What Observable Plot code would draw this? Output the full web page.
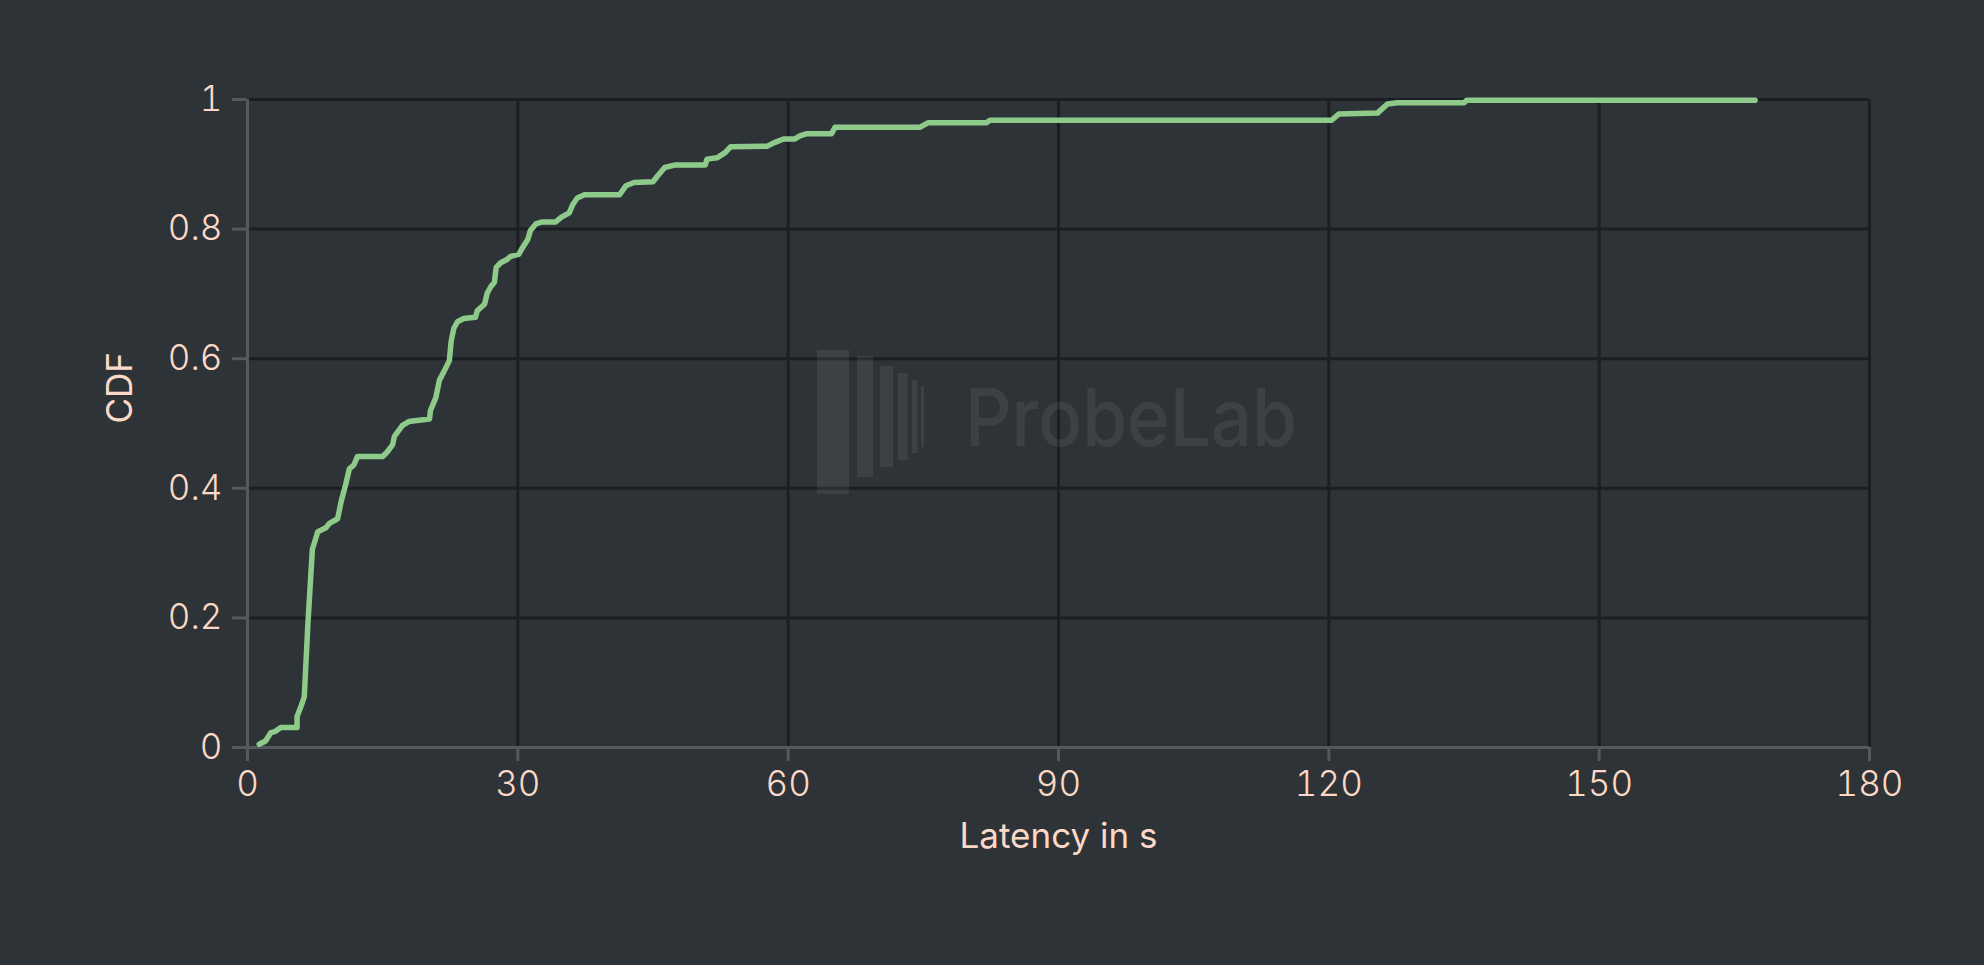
<!DOCTYPE html>
<html>
<head>
<meta charset="utf-8">
<script src="https://cdn.jsdelivr.net/npm/d3@7"></script>
<script src="https://cdn.jsdelivr.net/npm/@observablehq/plot@0.6"></script>
<style>
  html, body { margin: 0; padding: 0; background: #2e3338; }
  #wrap { position: relative; width: 1984px; height: 965px; overflow: hidden; }
  #wm { position: absolute; left: 0; top: 0; pointer-events: none; }
</style>
</head>
<body>
<div id="wrap"></div>
<script>
// ---- data ----
const latency = [
  1.3, 2.0, 2.6, 3.1, 3.7, 5.5, 5.5, 5.9, 6.3, 6.7,
  7.2, 7.8, 8.7, 9.1, 10.0, 10.4, 10.9, 11.3, 11.8, 12.2,
  15.0, 15.5, 16.1, 16.3, 17.2, 17.9, 20.2, 20.3, 20.9, 21.3,
  21.8, 22.4, 22.6, 22.9, 23.3, 24.0, 25.3, 25.5, 26.3, 26.6,
  27.0, 27.4, 27.6, 28.1, 28.8, 29.2, 30.1, 30.5, 31.1, 31.4,
  32.0, 32.7, 34.2, 34.8, 35.7, 36.1, 36.6, 37.4, 41.3, 42.0,
  42.9, 45.0, 45.5, 46.3, 47.5, 50.8, 51.0, 52.1, 53.0, 53.6,
  57.7, 58.4, 59.5, 60.7, 61.3, 62.0, 64.8, 65.2, 74.6, 75.5,
  82.0, 82.4, 120.3, 121.1, 125.4, 126.5, 127.6, 135.0, 135.3, 167.3
];
const cdf = [
  0.005, 0.010, 0.023, 0.025, 0.031, 0.031, 0.048, 0.062, 0.078, 0.19,
  0.306, 0.333, 0.339, 0.346, 0.353, 0.38, 0.406, 0.43, 0.436, 0.449,
  0.449, 0.456, 0.467, 0.48, 0.497, 0.503, 0.507, 0.52, 0.54, 0.567,
  0.58, 0.597, 0.627, 0.647, 0.657, 0.662, 0.664, 0.674, 0.684, 0.701,
  0.711, 0.718, 0.741, 0.748, 0.753, 0.758, 0.761, 0.771, 0.784, 0.798,
  0.808, 0.811, 0.811, 0.818, 0.825, 0.838, 0.848, 0.853, 0.853, 0.867,
  0.872, 0.873, 0.882, 0.895, 0.899, 0.899, 0.908, 0.910, 0.918, 0.927,
  0.928, 0.933, 0.939, 0.939, 0.944, 0.947, 0.947, 0.957, 0.957, 0.964,
  0.964, 0.968, 0.968, 0.9775, 0.979, 0.993, 0.995, 0.995, 0.999, 0.999
];
const xTicks = [0, 30, 60, 90, 120, 150, 180];
const yTicks = [0, 0.2, 0.4, 0.6, 0.8, 1];
const xLabel = "Latency in s";
const yLabel = "CDF";
const watermarkText = "ProbeLab";

// ---- styles ----
const BG = "#2e3338";
const GRID = "#1b1e22";
const AXIS = "#55585d";
const TEXT = "#fcd9c6";
const LINE = "#8ecb8a";
const FONT = "Inter, 'Open Sans', sans-serif";

const data = latency.map((d, i) => ({latency: d, cdf: cdf[i]}));
const fmt = d => String(d);

const chart = Plot.plot({
  width: 1984,
  height: 965,
  marginLeft: 247,
  marginRight: 115,
  marginTop: 99,
  marginBottom: 218,
  style: {background: BG, color: TEXT, fontFamily: FONT, overflow: "visible"},
  x: {domain: [0, 180], label: null},
  y: {domain: [0, 1], label: null},
  marks: [
    Plot.gridX(xTicks, {stroke: GRID, strokeOpacity: 1, strokeWidth: 3}),
    Plot.gridY(yTicks, {stroke: GRID, strokeOpacity: 1, strokeWidth: 3}),
    Plot.ruleX([0], {stroke: AXIS, strokeWidth: 3}),
    Plot.ruleY([0], {stroke: AXIS, strokeWidth: 3}),
    Plot.axisX(xTicks, {anchor: "bottom", tickSize: 14, tickPadding: 10, stroke: AXIS, strokeWidth: 3,
      fill: TEXT, fontSize: 35, fontWeight: 300, tickFormat: fmt, label: null}),
    Plot.axisY(yTicks, {anchor: "left", tickSize: 15, tickPadding: 10, stroke: AXIS, strokeWidth: 3,
      fill: TEXT, fontSize: 35, fontWeight: 300, tickFormat: fmt, label: null}),
    Plot.text([xLabel], {frameAnchor: "bottom", dy: 100, fill: TEXT, fontSize: 35, fontWeight: 400}),
    Plot.text([yLabel], {frameAnchor: "left", dx: -127, rotate: -90, fill: TEXT, fontSize: 35, fontWeight: 400}),
    Plot.line(data, {x: "latency", y: "cdf", stroke: LINE, strokeWidth: 5.5,
      strokeLinejoin: "round", strokeLinecap: "round"})
  ]
});

const wrap = document.getElementById("wrap");
wrap.appendChild(chart);

// ---- watermark (decoration, not data) ----
const ns = "http://www.w3.org/2000/svg";
const wm = document.createElementNS(ns, "svg");
wm.setAttribute("id", "wm");
wm.setAttribute("width", 1984);
wm.setAttribute("height", 965);
const bars = [
  [817, 350, 32, 144], [857, 356, 16, 121], [880, 366, 13, 101],
  [898, 373, 9.5, 87], [912, 380, 5.5, 73], [921, 386, 3, 61]
];
for (const [x, y, w, h] of bars) {
  const r = document.createElementNS(ns, "rect");
  r.setAttribute("x", x); r.setAttribute("y", y);
  r.setAttribute("width", w); r.setAttribute("height", h);
  r.setAttribute("fill", "#ffffff"); r.setAttribute("fill-opacity", 0.07);
  wm.appendChild(r);
}
const t = document.createElementNS(ns, "text");
t.setAttribute("x", 965); t.setAttribute("y", 446);
t.setAttribute("font-family", FONT);
t.setAttribute("font-size", 80);
t.setAttribute("font-weight", 500);
t.setAttribute("textLength", 332);
t.setAttribute("lengthAdjust", "spacingAndGlyphs");
t.setAttribute("fill", "#ffffff"); t.setAttribute("fill-opacity", 0.07);
t.textContent = watermarkText;
wm.appendChild(t);
wrap.appendChild(wm);
</script>
</body>
</html>
